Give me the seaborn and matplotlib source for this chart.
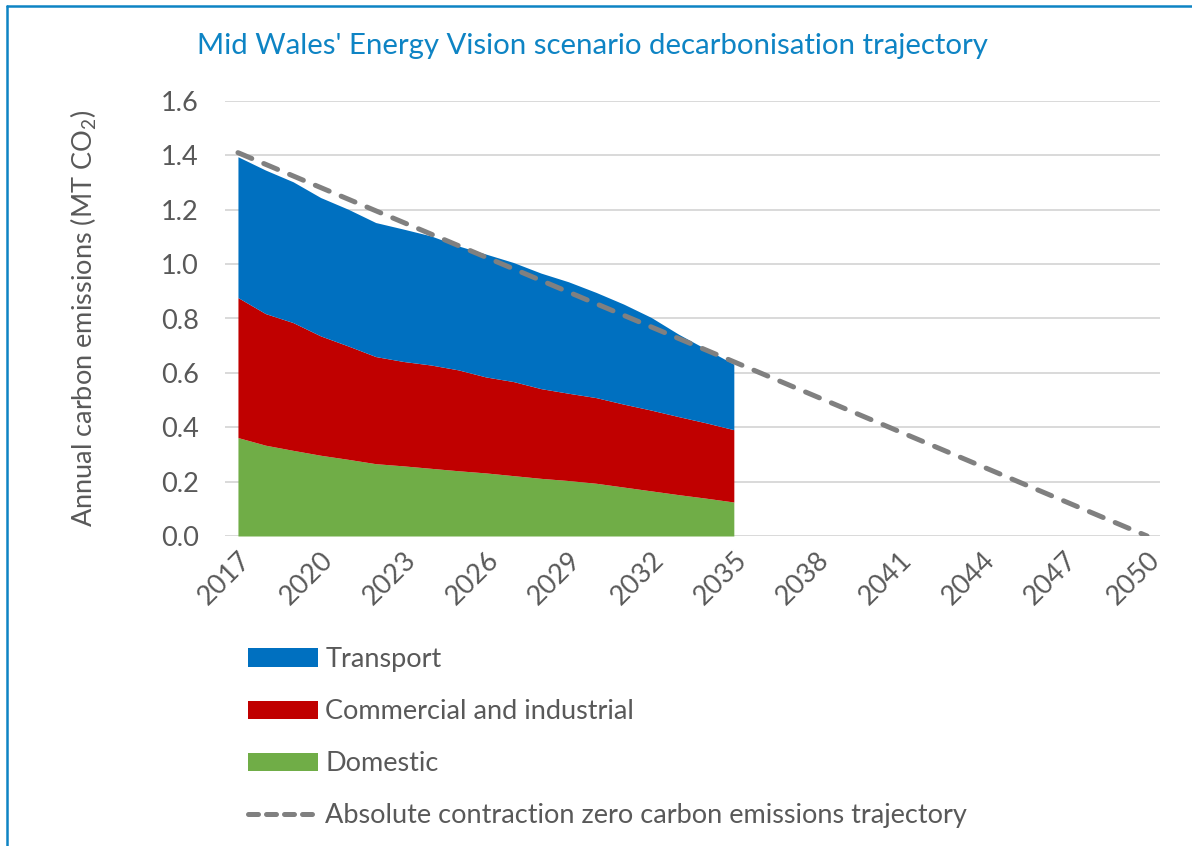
import warnings
warnings.filterwarnings("ignore")

import matplotlib
matplotlib.use("Agg")

import matplotlib.pyplot as plt
import matplotlib.lines as mlines
import matplotlib.patches as mpatches
import pandas as pd
import seaborn as sns

# ======================
# DATA
# ======================
years = list(range(2017, 2036))

domestic = [0.362, 0.334, 0.315, 0.297, 0.282, 0.266, 0.258, 0.249, 0.240, 0.232,
            0.222, 0.212, 0.204, 0.194, 0.180, 0.166, 0.152, 0.139, 0.125]
commercial = [0.515, 0.484, 0.470, 0.439, 0.417, 0.394, 0.384, 0.380, 0.371, 0.353,
              0.346, 0.330, 0.321, 0.315, 0.305, 0.297, 0.287, 0.277, 0.266]
transport = [0.518, 0.528, 0.518, 0.509, 0.503, 0.493, 0.487, 0.475, 0.456, 0.452,
             0.438, 0.425, 0.410, 0.387, 0.368, 0.341, 0.303, 0.271, 0.241]

traj_years = [2017, 2050]
traj_values = [1.41, 0.0]

tick_years = [2017, 2020, 2023, 2026, 2029, 2032, 2035, 2038, 2041, 2044, 2047, 2050]
y_ticks = [0.0, 0.2, 0.4, 0.6, 0.8, 1.0, 1.2, 1.4, 1.6]

traj_name = "Absolute contraction zero carbon emissions trajectory"

# ======================
# STYLE
# ======================
BLUE = "#0070C0"
RED = "#C00000"
GREEN = "#70AD47"
GREY = "#808080"
TEXT = "#595959"
TITLE = "#0E84C4"
FS = 19.5

sns.set_theme(style="white")
plt.rcParams["font.family"] = ["Lato", "DejaVu Sans"]
plt.rcParams["mathtext.fontset"] = "custom"
plt.rcParams["mathtext.rm"] = "Lato"
plt.rcParams["mathtext.it"] = "Lato"

fig = plt.figure(figsize=(11.92, 8.46), dpi=100)
ax = fig.add_axes([225 / 1192, 1 - 536 / 846, (1160 - 225) / 1192, (536 - 101) / 846])

# gridlines
for v in y_ticks:
    ax.axhline(v, color="#D9D9D9", lw=1.4, zorder=0)

# stacked areas
ax.stackplot(years, domestic, commercial, transport,
             colors=[GREEN, RED, BLUE], lw=0, zorder=2)

# trajectory
traj = pd.DataFrame({"year": traj_years, "value": traj_values})
sns.lineplot(data=traj, x="year", y="value", ax=ax, color=GREY, lw=3.6,
             zorder=3, dashes=False)
ln = ax.lines[-1]
ln.set_linestyle((0, (3.0, 2.6)))
ln.set_dash_capstyle("round")

ax.set_xlim(2016.53, 2050.47)
ax.set_ylim(0, 1.6)
ax.set_xticks(tick_years)
ax.set_xticklabels([str(y) for y in tick_years], rotation=45, ha="right",
                   rotation_mode="anchor", fontsize=FS, color=TEXT)
ax.set_yticks(y_ticks)
ax.set_yticklabels([f"{v:.1f}" for v in y_ticks], fontsize=FS, color=TEXT)
ax.tick_params(axis="x", length=0, pad=8)
ax.tick_params(axis="y", length=0, pad=19)
for s in ax.spines.values():
    s.set_visible(False)
ax.set_xlabel("")
ax.set_ylabel("Annual carbon emissions (MT CO$_2$)", fontsize=FS, color=TEXT)
ax.yaxis.set_label_coords(-0.135, 0.5)

fig.text(592 / 1192, 1 - 46 / 846, "Mid Wales' Energy Vision scenario decarbonisation trajectory",
         ha="center", va="center", fontsize=21.2, color=TITLE)

# legend
handles = [mpatches.Patch(color=BLUE, lw=0),
           mpatches.Patch(color=RED, lw=0),
           mpatches.Patch(color=GREEN, lw=0),
           mlines.Line2D([], [], color=GREY, lw=3.6, ls=(0, (2.0, 1.6)),
                         dash_capstyle="round")]
labels = ["Transport", "Commercial and industrial", "Domestic", traj_name]
fig.legend(handles, labels, loc="upper left", bbox_to_anchor=(248 / 1192, 1 - 647 / 846),
           frameon=False, fontsize=FS, labelcolor=TEXT, handlelength=2.6,
           handleheight=0.65, handletextpad=0.25, labelspacing=1.0, borderpad=0,
           borderaxespad=0)

# chart border (left and top only visible)
fig.add_artist(mlines.Line2D([7.5 / 1192, 7.5 / 1192], [0, 1 - 6.5 / 846],
                             color=TITLE, lw=1.8, transform=fig.transFigure))
fig.add_artist(mlines.Line2D([7.5 / 1192, 1], [1 - 6.5 / 846, 1 - 6.5 / 846],
                             color=TITLE, lw=1.8, transform=fig.transFigure))

fig.savefig("out.png", dpi=100, facecolor="white")
